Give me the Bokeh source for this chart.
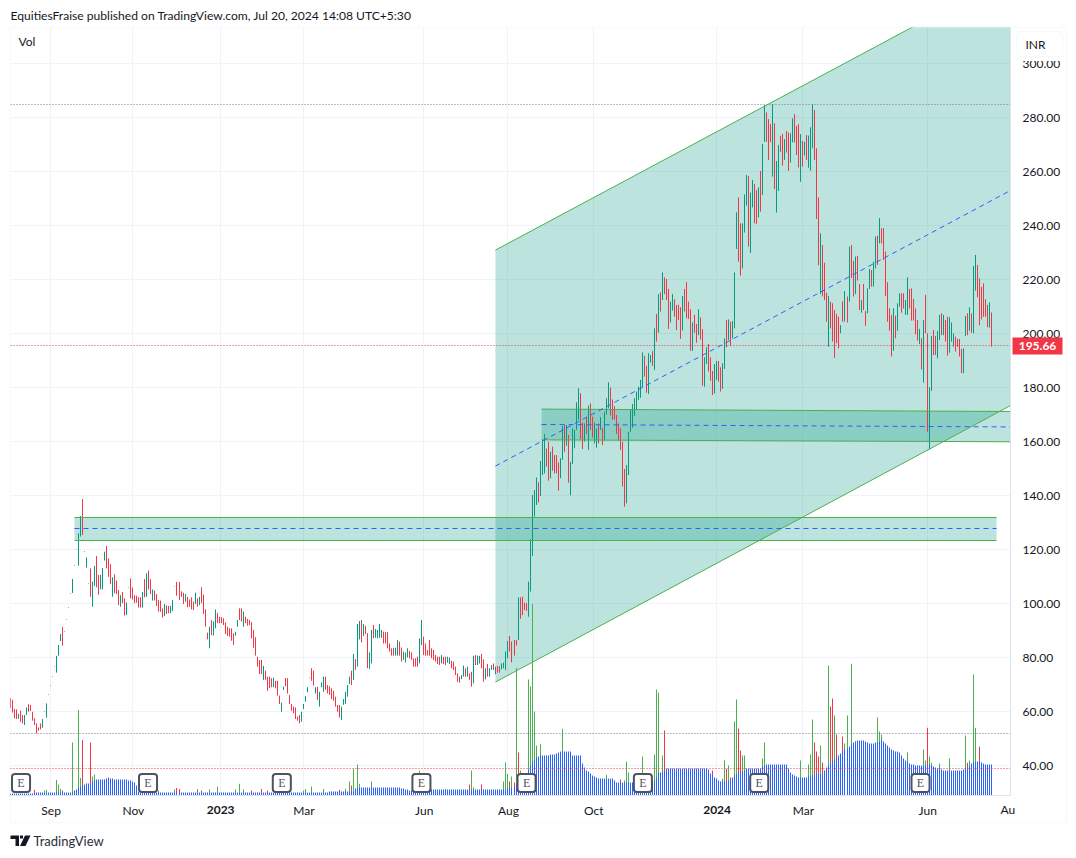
from bokeh.embed import file_html
from bokeh.resources import INLINE
from bokeh.plotting import figure
from bokeh.models import Range1d, Label, BoxAnnotation, PolyAnnotation, FixedTicker
import math

# ---------- price bars (top / bottom of each daily bar, in INR) ----------
high_a = [64.9,64.3,60.9,60.8,59.1,60.3,58.7,58.7,61.5,62.7,
          62.4,59.9,57.5,55.6,54.1,55.6,57.2,60.1,63.0,66.4,
          69.8,73.1,76.8,80.6,84.6,88.7,91.3,89.8,94.2,98.7,
          103.8,109.1,114.2,120.2,126.0,132.4,138.7,119.4,117.1,107.6,
          113.0,108.1,113.9,117.6,110.6,110.6,113.1,119.2,121.3,116.7]
low_a  = [61.4,59.6,57.5,57.2,57.3,56.2,55.6,55.0,58.7,59.9,
          60.2,56.6,55.0,51.9,52.9,53.4,54.0,59.9,57.7,66.2,
          69.6,72.9,76.6,74.4,80.7,86.1,84.4,89.6,94.0,98.5,
          103.6,103.9,114.0,120.0,114.0,124.8,125.4,119.2,113.3,107.4,
          102.5,98.8,106.5,106.0,103.3,105.2,105.2,115.9,113.0,109.9]
dir_a  = "RRRRGRRGGR" "RRRRRRGGGG" "GGGGGGRGGG" "GGGGGGRGGG" "RGGRRGGGRR"

high_b = [114.6,109.7,110.8,108.5,105.0,103.1,104.3,101.9,100.4,105.9,
          109.3,105.9,103.1,102.9,102.3,102.3,104.3,109.1,111.2,112.2,
          109.0,105.2,104.8,103.5,101.3,101.1,98.2,99.8,99.3,99.1,
          99.1,101.3,106.4,108.0,108.0,104.5,104.0,103.5,102.5,101.5,
          102.3,100.7,104.0,101.9,102.5,106.0,103.3,97.8,89.2,91.4]
low_b  = [107.2,102.5,103.8,103.5,99.4,98.8,100.1,95.5,95.7,105.7,
          101.9,101.5,100.1,100.3,98.5,98.5,98.5,102.3,102.5,105.2,
          103.5,101.1,101.1,99.1,97.0,96.9,94.8,95.4,96.1,96.4,
          96.4,97.2,106.2,102.9,101.3,102.5,99.8,100.7,98.6,98.8,
          97.8,97.6,99.8,98.8,99.4,100.1,96.1,91.4,86.7,83.4]
dir_b  = "RGRRRGRRGG" "RRRRRRGRGR" "RGRRRRRGRR" "GGGRRRRGRR" "RRGRGRRRRG"

high_c = [93.9,93.3,97.8,96.6,95.1,94.9,94.5,93.0,91.4,90.8,
          90.8,89.0,89.5,93.9,98.2,98.2,97.0,95.1,94.3,93.9,
          93.1,90.2,87.5,80.3,79.1,79.1,76.9,75.1,72.9,72.9,
          72.3,72.5,71.4,71.4,65.9,63.3,69.2,72.4,72.3,66.1,
          62.8,61.8,61.5,58.1,58.7,59.9,62.8,65.7,69.0,72.5]
low_c  = [88.3,88.1,90.8,92.7,92.7,92.7,92.0,88.7,88.0,87.7,
          86.2,84.6,88.1,91.4,93.9,93.3,91.4,92.7,91.8,92.0,
          87.1,83.6,80.7,76.6,73.9,73.9,71.7,71.7,67.7,68.6,
          69.0,69.0,68.6,65.9,62.8,59.9,68.0,69.4,66.7,62.8,
          60.3,59.3,57.2,56.6,55.6,56.2,60.9,63.6,67.1,72.3]
dir_c  = "RGGRRRRRRR" "RRGGRRGRRR" "RRRRRRGRRR" "RGRRRGGRRR" "RRRRRGGGGG"

high_d = [76.0,75.1,69.0,69.2,67.3,70.7,72.9,72.9,69.8,69.4,
          68.6,67.7,65.5,62.4,62.4,61.8,64.6,67.3,69.8,72.9,
          75.1,81.3,79.4,92.4,93.5,93.9,92.4,91.7,89.0,81.9,
          90.2,92.0,90.6,90.2,92.4,90.2,89.6,89.4,89.4,85.2,
          83.4,83.6,83.6,86.5,85.9,83.7,82.2,81.8,83.4,82.5]
low_d  = [71.4,69.6,66.7,64.3,61.8,69.0,67.3,68.0,66.7,66.1,
          64.6,64.0,61.8,59.9,57.8,56.9,62.5,62.8,65.5,70.2,
          69.8,71.7,75.4,76.6,86.7,85.6,88.0,88.7,76.0,75.8,
          77.8,87.1,87.3,87.1,87.3,87.3,85.2,85.2,83.4,82.2,
          80.7,80.7,80.7,80.7,80.7,78.5,79.1,78.2,80.0,79.7]
dir_d  = "RRGRGGGRRR" "RRRRRGGGGG" "RGRGGRGRRG" "GRGGGGRRRR" "RRGGRRGGGR"

high_e = [81.9,79.7,79.7,80.3,87.1,93.9,87.7,85.2,82.8,86.5,
          83.4,82.8,80.9,80.3,80.3,80.9,80.3,80.3,80.3,80.0,
          78.8,78.5,76.6,74.1,72.9,73.5,77.0,76.0,76.6,74.1,
          74.7,80.6,80.9,80.7,80.6,81.3,79.3,76.0,77.6,76.0,
          77.2,77.8,76.6,76.8,76.8,77.8,78.1,82.2,86.1,88.0]
low_e  = [79.1,76.6,76.6,76.6,77.8,84.6,80.9,80.7,80.7,80.7,
          79.7,79.1,78.5,77.6,77.2,77.8,77.6,77.2,78.1,77.6,
          76.0,75.4,73.5,71.0,70.7,72.0,72.9,72.9,72.9,71.7,
          69.2,70.4,77.2,77.2,77.8,76.0,71.0,71.9,72.9,72.9,
          75.4,75.4,73.8,74.4,74.4,75.6,76.0,75.4,79.7,82.2]
dir_e  = "RRRRGGRRRR" "RRRRRGRRGG" "RRRRRGGRGR" "RGRGGRRGRG" "GRGRRGGGGR"

high_f = [85.9,86.5,86.5,102.3,102.3,102.5,100.3,100.1,108.1,123.8,
          140.2,142.0,146.7,144.9,152.8,160.6,162.8,157.4,159.9,156.2,
          158.1,155.0,155.0,152.2,153.8,165.7,166.1,166.1,162.4,152.5,
          164.9,164.3,174.5,179.7,177.9,167.0,166.7,169.2,173.3,174.1,
          169.2,167.0,164.9,166.7,169.0,165.1,171.0,176.0,181.9,180.0]
low_f  = [78.2,80.7,84.4,86.5,94.3,95.7,97.6,97.3,95.1,104.4,
          117.6,132.2,136.5,137.4,139.8,147.6,148.2,150.7,145.5,146.4,
          149.2,148.2,148.2,141.8,146.4,153.2,156.2,158.4,144.8,140.1,
          151.7,157.5,164.3,168.0,160.9,157.2,160.0,162.8,156.9,164.3,
          161.4,159.3,157.7,159.3,164.3,158.7,160.3,170.0,172.3,169.6]
dir_f  = "RRRGRRRRGG" "GGGRGGGRRG" "RRRRGGRGRG" "GGGGRRGRGR" "RGGRGRGGGR"

high_g = [175.6,173.1,169.8,166.7,164.9,159.9,149.8,151.3,163.6,172.0,
          173.9,176.0,178.5,180.3,182.8,193.0,191.7,188.0,192.7,192.0,
          193.5,201.9,207.2,214.6,215.2,222.6,220.8,220.2,216.5,211.8,
          214.6,212.7,210.6,210.6,209.7,213.9,216.5,219.0,211.8,209.0,
          204.1,206.9,203.5,209.0,206.0,201.6,191.2,194.9,196.1,191.2]
low_g  = [168.0,168.2,162.8,160.3,156.9,143.3,135.9,137.1,147.6,163.6,
          165.1,169.5,171.9,175.4,176.2,180.0,184.0,178.1,177.6,189.2,
          188.0,186.5,197.0,200.3,208.1,212.4,214.6,212.4,201.7,204.1,
          208.5,206.2,201.3,205.0,198.0,201.1,208.1,205.6,205.4,193.6,
          193.6,200.3,196.6,199.4,197.8,180.7,180.3,188.7,185.9,182.5]
dir_g  = "RRRRRRRGGG" "GGGGGGRRGG" "RGRGRGRRRG" "GRRRRGRRRR" "GRRGRRGGRR"

high_h = [186.1,188.7,189.8,189.8,187.5,189.0,198.2,205.0,205.2,204.4,
          204.6,222.6,244.9,250.4,240.8,240.8,251.5,258.7,258.3,252.2,
          256.9,255.4,253.1,254.1,260.2,270.2,284.6,281.9,279.4,277.6,
          285.0,277.9,263.9,269.8,273.2,273.9,272.0,275.0,274.4,274.1,
          279.7,281.3,276.9,277.5,273.8,271.3,271.0,273.5,273.3,276.4]
low_h  = [177.2,177.8,182.8,182.2,178.5,179.5,186.9,194.9,197.6,195.4,
          198.2,201.9,231.3,226.6,221.4,224.1,237.4,247.4,232.2,229.8,
          246.7,240.8,240.6,243.0,245.1,251.3,271.0,271.0,264.3,270.8,
          258.1,253.5,244.8,252.8,267.3,262.2,264.3,267.0,260.2,263.3,
          270.8,270.8,266.1,261.5,256.2,261.8,265.9,264.3,261.4,260.3]
dir_h  = "RGGRRGGRGR" "GGGRRGGGRG" "GRRGRGGRRR" "GRGGRRGRRG" "GRRRGRGRGG"

high_i = [284.9,282.8,268.6,250.4,237.1,232.8,226.2,215.1,213.9,211.8,
          211.2,208.7,207.2,206.2,203.1,211.9,215.7,213.7,232.2,232.8,
          226.9,228.5,228.7,218.3,212.4,218.3,208.3,216.7,223.9,223.5,
          226.6,235.9,236.2,242.7,239.0,239.0,230.3,219.0,209.3,206.9,
          209.3,206.6,211.2,214.9,214.9,214.9,212.4,220.8,216.5,216.7]
low_i  = [268.6,264.3,242.4,225.3,214.6,213.7,212.4,204.4,195.1,201.9,
          197.0,191.0,196.4,194.5,200.1,204.4,204.4,204.1,211.8,220.5,
          213.7,214.6,219.6,208.7,207.7,208.7,202.9,207.5,216.5,217.4,
          217.4,224.1,225.4,233.4,233.4,227.2,213.9,204.4,201.0,191.5,
          193.6,198.2,201.0,209.9,207.7,209.3,206.9,206.9,209.3,204.8]
dir_i  = "GRRRGRRRGR" "RRRRGRGRGR" "RGRRGRRGGR" "GGRGRRRRRR" "GRGGRRGGRR"

high_j = [212.8,209.3,205.0,201.7,198.2,205.0,214.3,200.1,180.1,199.1,
          201.3,199.1,201.0,206.9,207.5,206.9,205.0,206.2,206.0,204.1,
          200.1,198.8,198.0,198.0,194.3,194.5,206.5,207.5,209.7,207.5,
          225.0,229.1,225.4,220.4,217.3,218.6,212.7,210.6,211.5,207.8]
low_j  = [204.8,199.7,197.4,196.1,186.7,181.8,200.1,163.6,157.1,178.8,
          192.0,192.0,190.8,197.6,199.4,199.4,197.0,191.8,192.9,197.0,
          195.1,193.3,195.1,191.5,185.3,185.3,199.1,199.4,201.0,200.3,
          200.1,215.9,213.4,203.1,205.2,206.2,206.2,202.3,202.2,195.1]
dir_j  = "RRRGRGRRGG" "RRGGRGRRGG" "GRRRRGGRGR" "GGRRRRRRGR"

# ---------- volume: moving-average columns and the bars that rise above them ----------
vol_ma = [2,2,2,2,2,2,2,2,2,2, 2,2,2,3,3,3,3,3,3,3, 3,3,3,3,3,3,3,3,3,3, 3,3,5,6,8,9,10,11,12,12,
          12,14,15,16,16,16,16,16,17,18, 17,17,16,16,16,16,16,16,16,15, 15,14,13,10,4,3,3,3,3,3,
          3,3,3,3,3,3,3,3,3,3, 3,3,3,3,3,3,3,3,3,3, 3,3,3,3,3,3,3,3,3,3, 3,3,3,3,3,3,3,3,3,3,
          3,3,3,3,3,3,3,3,3,3, 3,3,3,3,3,3,3,3,3,3, 3,3,3,3,3,3,3,3,3,3, 3,3,3,3,3,3,3,3,3,3,
          3,3,3,3,3,3,3,3,3,4, 4,4,4,4,4,4,4,4,4,4, 4,4,7,8,8,8,8,8,8,8, 8,8,8,8,8,8,8,8,8,8,
          8,8,8,8,8,7,7,6,6,5, 5,5,5,5,5,5,5,5,5,6, 6,6,6,6,6,6,6,6,6,6, 6,6,6,6,6,6,6,6,6,6,
          6,6,6,6,6,6,6,6,6,6, 6,6,6,6,6,6,6,6,7,8, 8,9,12,18,19,20,20,20,26,30,
          34,36,38,39,40,40,40,40,40,41, 41,41,42,43,44,44,44,44,44,44, 40,40,40,40,40,32,28,25,24,22,
          20,19,18,17,17,17,17,17,17,17, 17,15,13,13,13,13,13,13,13,13, 13,13,13,13,13,13,13,14,14,14,
          14,15,18,23,23,24,25,27,27,27, 27,27,27,27,27,27,27,27,27,27, 27,27,27,27,27,27,27,27,26,22,
          20,18,17,15,14,14,14,14,15,16, 18,20,21,22,23,24,25,27,27,27, 27,27,27,27,27,29,30,31,31,31,
          31,31,31,31,31,31,31,31,27,23, 21,20,19,18,18,18,18,18,19,19, 20,21,22,22,22,22,25,28,30,33,
          35,36,38,40,42,44,46,47,49,51, 53,54,55,55,55,55,54,53,52,52, 52,53,53,54,56,54,52,50,48,46,
          45,44,44,43,40,37,35,34,32,31, 31,30,30,30,30,30,30,30,31,30, 29,28,27,27,26,25,25,25,25,25,
          25,25,25,25,25,26,27,28,30,32, 33,33,34,34,33,32,31,31,31,31]

spike_bar = [12,17,18,23,24,25,26,31,34,35,36,40,41,42,
             74,82,83,84,93,95,99,103,112,114,116,120,125,128,146,147,150,156,164,
             167,169,170,171,173,174,180,204,217,229,230,231,235,246,247,248,249,250,251,
             252,253,254,258,259,260,261,262,264,275,297,304,306,307,308,315,321,322,323,325,326,
             350,355,356,357,358,359,361,362,363,364,365,366,375,376,394,398,399,400,401,402,403,404,405,
             408,409,410,411,412,415,416,417,419,421,432,433,434,447,455,456,457,458,459,463,468,
             476,477,478,480,481,483]
spike_vol = [5.6,5,5.6,15.6,11,6.6,5,53,85.6,17.6,55.6,53,19,21,
             5,6,7.5,6.5,6.5,5,6,9,6,11.7,6,5,6.5,5,5,6.5,9,6.5,5.6,
             6.7,14,10,26.7,31,11.7,14,25,6.7,11,25,8,11,14,33,21.7,14,19,13,
             127.7,43,25,116,109,191.7,84,50,51.7,66.7,20.7,16,15,34,23,39,41,106,103,40,65,
             25,16.7,35,26.7,30,18,74,96,67,45,40,40,37,53,35,31,41,76,53,44,39,50,33,
             130,89,97,80,61,59,52,80,131.7,54,78,64,61,43,46,35,67.7,39,32.7,32,37,
             60,32.7,35,121,67.7,49]
spike_dir = ("RGGGGGRGGGRRGG"
             "GGRRGRGGGGGRRRGGGGR"
             "GGRGGGGGGRGGRGGGRGR"
             "GRGGGGGGGGGRGGGGGGGGR"
             "RGGRGRGGRRGGGGGGGGRRRGR"
             "GRRGRRGGGRGGGGGGRGGGG"
             "GRGGGR")

earnings_bar = [5, 68.3, 135, 204.6, 257, 315, 373, 453.4]

# ---------- drawings (bar position, price) ----------
chan_top_bar = [241.5, 449.4]
chan_top = [230.9, 313.5]
chan_bot_bar = [241.5, 498.26]
chan_bot = [70.9, 173.3]
chan_mid_bar = [241.5, 498.26]
chan_mid = [150.9, 253.0]
zone1_bar = [31.65, 491.3]
zone1_top = [132.0, 132.0]
zone1_mid = [127.8, 127.8]
zone1_bot = [123.3, 123.3]
zone2_bar = [264.5, 498.26]
zone2_top = [172.0, 171.1]
zone2_mid = [166.3, 165.4]
zone2_bot = [160.6, 159.9]

price_high_line = 284.8
price_last = 195.66
vol_high_line = 51.85
vol_last_line = 39.0

# ---------- axes ----------
price_ticks = [40,60,80,100,120,140,160,180,200,220,240,260,280,300]
month_bars = [20, 61, 104.5, 146, 206, 248, 290.5, 352, 395, 457]
month_labels = ["Sep", "Nov", "", "Mar", "Jun", "Aug", "Oct", "", "Mar", "Jun"]
year_bars = [104.5, 352]
year_labels = ["2023", "2024"]
pane_left_bar, pane_right_bar = -0.25, 498.26
pane_bottom_price, pane_top_price = 29.07, 313.5

GREEN = "#089981"; RED = "#f23645"; VGREEN = "#4caf50"; BLUE = "#2962ff"
FONT = "Lato"; INK = "#131722"
W, H = 1076, 858
SPACING = 2.006
PX_PER_INR = 2.7

highs = high_a + high_b + high_c + high_d + high_e + high_f + high_g + high_h + high_i + high_j
lows = low_a + low_b + low_c + low_d + low_e + low_f + low_g + low_h + low_i + low_j
dirs = dir_a + dir_b + dir_c + dir_d + dir_e + dir_f + dir_g + dir_h + dir_i + dir_j
assert len(highs) == len(lows) == len(dirs) == len(vol_ma), (len(highs), len(lows), len(dirs), len(vol_ma))
assert len(spike_bar) == len(spike_vol) == len(spike_dir), (len(spike_bar), len(spike_vol), len(spike_dir))
bars = list(range(len(highs)))

def bar_x(i):
    """bar position, nudged so that a 1px line lands on one whole device pixel"""
    return (math.floor(10.5 + SPACING * i) - 10.5) / SPACING

def snap_price(v):
    """same nudge for a horizontal 1px line"""
    return 40 + (765 - round(765 - (v - 40) * PX_PER_INR)) / PX_PER_INR

bars_x = [bar_x(i) for i in bars]
spikes_x = [bar_x(i) for i in spike_bar]
grid_x = [bar_x(b) for b in month_bars]

p = figure(width=W, height=H, output_backend="svg", toolbar_location=None,
           x_range=Range1d(-10.5 / SPACING, (W - 10.5) / SPACING),
           y_range=Range1d(40 - 93 / PX_PER_INR, 40 + 765 / PX_PER_INR),
           y_axis_location="right", min_border=0, min_border_left=0, min_border_top=0,
           min_border_right=0, min_border_bottom=0, background_fill_color="white",
           border_fill_color="white", outline_line_color=None)
p.extra_y_ranges = {"vol": Range1d(-63, 795)}
p.grid.visible = False

p.xaxis.ticker = FixedTicker(ticks=month_bars)
p.xaxis.major_label_overrides = {b: t for b, t in zip(month_bars, month_labels)}
p.yaxis.ticker = FixedTicker(ticks=price_ticks)
p.yaxis.major_label_overrides = {t: f"{t:.2f}" for t in price_ticks}
p.xaxis.fixed_location = pane_bottom_price
p.yaxis.fixed_location = pane_right_bar
p.xaxis.bounds = (pane_left_bar, pane_right_bar)
p.yaxis.bounds = (pane_bottom_price, pane_top_price)
for ax in (p.xaxis[0], p.yaxis[0]):
    ax.axis_line_color = "#e0e3eb"
    ax.major_tick_line_color = None
    ax.minor_tick_line_color = None
    ax.major_label_text_font = FONT
    ax.major_label_text_font_size = "12px"
    ax.major_label_text_color = INK
p.yaxis[0].major_label_standoff = 6
p.xaxis[0].major_label_standoff = 2

# grid lines stop at the pane edges
GRID = "#f0f3fa"
p.segment(x0=grid_x, x1=grid_x, y0=[pane_bottom_price]*len(grid_x),
          y1=[pane_top_price]*len(grid_x), color=GRID, line_width=1)
p.segment(x0=[pane_left_bar]*len(price_ticks), x1=[pane_right_bar]*len(price_ticks),
          y0=price_ticks, y1=price_ticks, color=GRID, line_width=1)

# zone / channel fills
p.patch(x=chan_top_bar + [chan_bot_bar[1], chan_bot_bar[1], chan_bot_bar[0]],
        y=chan_top + [chan_top[1], chan_bot[1], chan_bot[0]], fill_color=GREEN, fill_alpha=0.27, line_color=None)
p.varea(x=zone1_bar, y1=zone1_bot, y2=zone1_top, fill_color=GREEN, fill_alpha=0.27)
p.varea(x=zone2_bar, y1=zone2_bot, y2=zone2_top, fill_color=GREEN, fill_alpha=0.27)

# volume
p.segment(x0=spikes_x, x1=spikes_x, y0=[0]*len(spike_bar), y1=spike_vol,
          color=[VGREEN if d == "G" else RED for d in spike_dir], line_width=1, y_range_name="vol")
p.segment(x0=bars_x, x1=bars_x, y0=[0]*len(bars), y1=vol_ma, color=BLUE, line_width=1, y_range_name="vol")

# price bars
p.segment(x0=bars_x, x1=bars_x, y0=lows, y1=highs,
          color=[GREEN if d == "G" else RED for d in dirs], line_width=1)

# dotted lines
pane_edges = [pane_left_bar, pane_right_bar]
for v, c in ((price_high_line, "#787b86"), (price_last, RED), (vol_high_line, "#787b86"), (vol_last_line, RED)):
    s = snap_price(v)
    p.line(pane_edges, [s, s], line_color=c, line_width=1, line_dash=[1, 2])

# drawing outlines
for xs, ys in ((chan_top_bar, chan_top), (chan_bot_bar, chan_bot),
               (zone1_bar, [snap_price(v) for v in zone1_top]), (zone1_bar, [snap_price(v) for v in zone1_bot]),
               (zone2_bar, zone2_top), (zone2_bar, zone2_bot)):
    p.line(xs, ys, line_color=VGREEN, line_width=1)
for xs, ys in ((chan_mid_bar, chan_mid), (zone1_bar, [snap_price(v) for v in zone1_mid]), (zone2_bar, zone2_mid)):
    p.line(xs, ys, line_color=BLUE, line_width=1, line_dash=[5, 4])

# earnings badges
p.quad(left=[b - 4.5 for b in earnings_bar], right=[b + 4.5 for b in earnings_bar],
       bottom=[3.5]*8, top=[21.5]*8, y_range_name="vol", fill_color="white",
       line_color="#50535e", line_width=2, border_radius=3)
p.text(x=earnings_bar, y=[12.5]*8, text=["E"]*8, y_range_name="vol", text_align="center",
       text_baseline="middle", text_font=FONT, text_font_size="12px", text_color="#50535e")

def box(left, right, top, bottom, **kw):
    p.add_layout(BoxAnnotation(left=left, right=right, top=top, bottom=bottom, left_units="canvas",
                               right_units="canvas", top_units="canvas", bottom_units="canvas",
                               level="overlay", **kw))

def note(x, y, text, **kw):
    base = dict(x=x, y=y, x_units="canvas", y_units="canvas", text=text, text_font=FONT,
                text_font_size="12px", text_color=INK, text_baseline="middle")
    base.update(kw)
    p.add_layout(Label(**base))

# outer frame
box(9.5, 1066, 27, 822, fill_alpha=0, line_color="#f0f3fa", line_width=2)

note(10, 15, "EquitiesFraise published on TradingView.com, Jul 20, 2024 14:08 UTC+5:30", text_font_size="12.1px")
note(18, 41, "Vol")
note(33, 840.5, "TradingView", text_font_size="13px", text_color="#2a2e39")

# INR box (its white backing trims the top of the 300.00 label) and price tag
box(1013, 1064, 56, 60.5, fill_color="white", fill_alpha=1, line_alpha=0, line_width=0)
box(1016, 1062, 31, 56.5, fill_color="white", fill_alpha=1, line_color="#e0e3eb", line_width=1, border_radius=5)
note(1025, 44, "INR", level="overlay")
box(1012, 1062, 337, 354, fill_color=RED, fill_alpha=1, line_color=RED, line_width=0)
note(1037, 345.5, f"{price_last:.2f}", text_font_style="bold", text_color="white", text_align="center", level="overlay")

# years and the clipped last month
for b, t in zip(year_bars, year_labels):
    p.add_layout(Label(x=b, y=809, x_units="data", y_units="canvas", text=t, text_font=FONT,
                       text_font_size="12px", text_font_style="bold", text_color=INK,
                       text_align="center", text_baseline="middle"))
note(1000, 809, "Au")

# logo
for xs, ys in (([10, 18.5, 18.5, 15, 15, 10], [835, 835, 845.5, 845.5, 838.5, 838.5]),
               ([24.5, 30, 25, 19.5], [835, 835, 845.5, 845.5]),
               ([19.5, 22.5, 22.5, 19.5], [835, 835, 838, 838])):
    p.add_layout(PolyAnnotation(xs=xs, ys=ys, xs_units="canvas", ys_units="canvas",
                                fill_color=INK, fill_alpha=1, line_color=None))

open("out.html", "w").write(file_html(p, INLINE))
